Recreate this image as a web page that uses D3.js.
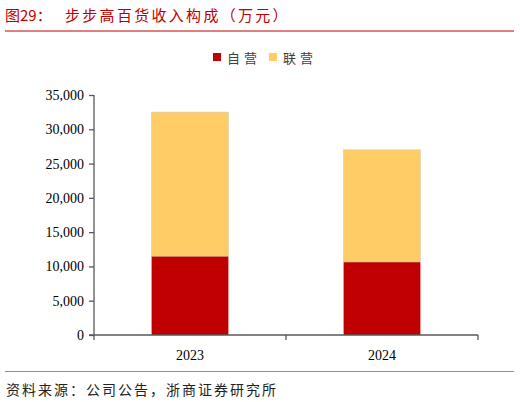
<!DOCTYPE html>
<html><head><meta charset="utf-8">
<script src="https://cdn.jsdelivr.net/npm/d3@7"></script>
<style>body{margin:0;background:#fff;}svg{display:block;}</style>
</head><body>
<script>
const years = ["2023", "2024"];
const ziying = [11500, 10650];
const lianying = [21000, 16350];
const seriesNames = ["自营", "联营"];
const seriesColors = ["#C00000", "#FFCC66"];
const yTicks = [0, 5000, 10000, 15000, 20000, 25000, 30000, 35000];

const W = 520, H = 402;
const svg = d3.select("body").append("svg").attr("width", W).attr("height", H);
const cjk = "'Noto Sans CJK SC', sans-serif";
const serif = "'Liberation Serif', 'Times New Roman', serif";

// title
svg.append("text").attr("x", 5).attr("y", 21).attr("fill", "#C00000")
  .style("font-family", cjk).style("font-size", "15px")
  .text("图29：");
svg.append("text").attr("x", 65).attr("y", 21).attr("fill", "#C00000")
  .style("font-family", cjk).style("font-size", "15px").attr("letter-spacing", "2.3px")
  .text("步步高百货收入构成（万元）");
svg.append("line").attr("x1", 5).attr("x2", 514).attr("y1", 31).attr("y2", 31)
  .attr("stroke", "#C00000").attr("stroke-width", 1.2);

// scales
const x = d3.scaleBand().domain(years).range([94, 478]).paddingInner(0.6).paddingOuter(0.3);
const y = d3.scaleLinear().domain([0, 35000]).range([335, 95]);

const data = years.map((yr, i) => ({year: yr, ziying: ziying[i], lianying: lianying[i]}));
const stack = d3.stack().keys(["ziying", "lianying"])(data);

const g = svg.append("g");
stack.forEach((s, si) => {
  g.selectAll(null).data(s).enter().append("rect")
    .attr("x", d => x(d.data.year))
    .attr("width", x.bandwidth())
    .attr("y", d => y(d[1]))
    .attr("height", d => y(d[0]) - y(d[1]))
    .attr("fill", seriesColors[si])
    .attr("stroke", si === 1 ? "#d8c8a8" : "none")
    .attr("stroke-width", si === 1 ? 0.6 : 0);
});

// y axis
const yAxis = d3.axisLeft(y).tickValues(yTicks).tickSize(5).tickPadding(5)
  .tickFormat(d3.format(","));
const ya = svg.append("g").attr("transform", "translate(94,0)").call(yAxis);
ya.selectAll("path,line").attr("stroke", "#595959").attr("stroke-width", 1.3);
ya.select(".domain").attr("d", "M0,95V335");
ya.selectAll("text").style("font-family", serif).style("font-size", "14px").attr("fill", "#000");

// x axis
const xa = svg.append("g").attr("transform", "translate(0,335)");
xa.append("line").attr("x1", 89).attr("x2", 478).attr("y1", 0).attr("y2", 0)
  .attr("stroke", "#595959").attr("stroke-width", 1.3);
const edges = [94].concat(years.map(yr => x(yr) + x.bandwidth() + x.step() * x.paddingInner() / 2));
edges[edges.length - 1] = 478;
xa.selectAll(null).data(edges).enter().append("line")
  .attr("x1", d => d).attr("x2", d => d).attr("y1", 0).attr("y2", 5)
  .attr("stroke", "#595959").attr("stroke-width", 1.3);
xa.selectAll(null).data(years).enter().append("text")
  .attr("x", d => x(d) + x.bandwidth() / 2).attr("y", 25)
  .attr("text-anchor", "middle")
  .style("font-family", serif).style("font-size", "14px").attr("fill", "#000")
  .text(d => d);

// legend
const leg = svg.append("g");
const legX = [213, 269];
seriesNames.forEach((n, i) => {
  leg.append("rect").attr("x", legX[i]).attr("y", 53).attr("width", 8).attr("height", 8)
    .attr("fill", seriesColors[i]);
  leg.append("text").attr("x", legX[i] + 14).attr("y", 63)
    .style("font-family", cjk).style("font-size", "13px").attr("fill", "#404040")
    .attr("letter-spacing", "4px")
    .text(n);
});

// footer
svg.append("line").attr("x1", 5).attr("x2", 514).attr("y1", 371.5).attr("y2", 371.5)
  .attr("stroke", "#E07070").attr("stroke-width", 1);
svg.append("text").attr("x", 6).attr("y", 395).attr("fill", "#222")
  .style("font-family", cjk).style("font-size", "14px").attr("letter-spacing", "2px")
  .text("资料来源：公司公告，浙商证券研究所");
</script>
</body></html>
